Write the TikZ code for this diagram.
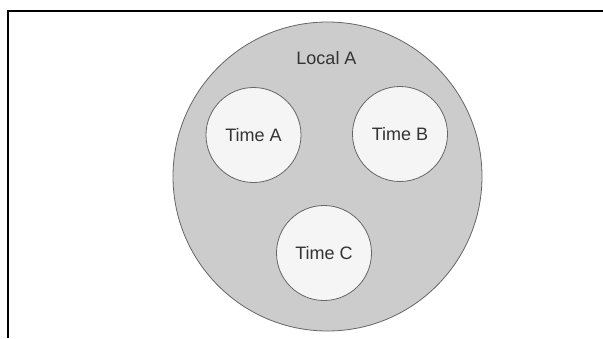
\documentclass[tikz,border=0pt]{standalone}
\usepackage{fontspec}
\setmainfont{Liberation Sans}
\begin{document}
\begin{tikzpicture}[x=1pt,y=-1pt,
  outer/.style={circle, draw=black!60, fill=black!20, line width=0.8pt, minimum size=309pt, inner sep=0pt},
  inner/.style={circle, draw=black!60, fill=black!4, line width=0.8pt, minimum size=95pt, inner sep=0pt,
    font=\fontsize{18}{21}\selectfont, text=black!80},
  lbl/.style={font=\fontsize{18}{21}\selectfont, text=black!80}]
\useasboundingbox (0,0) rectangle (603,338);
% frame edges along top and left
\draw[line width=1.6pt] (8,338) -- (8,11) -- (603,11);
% enclosing region
\node[outer] (local) at (327.5,176.5) {};
\node[lbl] (title) at (326.5,58) {Local A};
% member circles
\node[inner] (ta) at (253.5,135) {Time A};
\node[inner] (tb) at (400,134) {Time B};
\node[inner] (tc) at (324,253) {Time C};
\end{tikzpicture}
\end{document}
